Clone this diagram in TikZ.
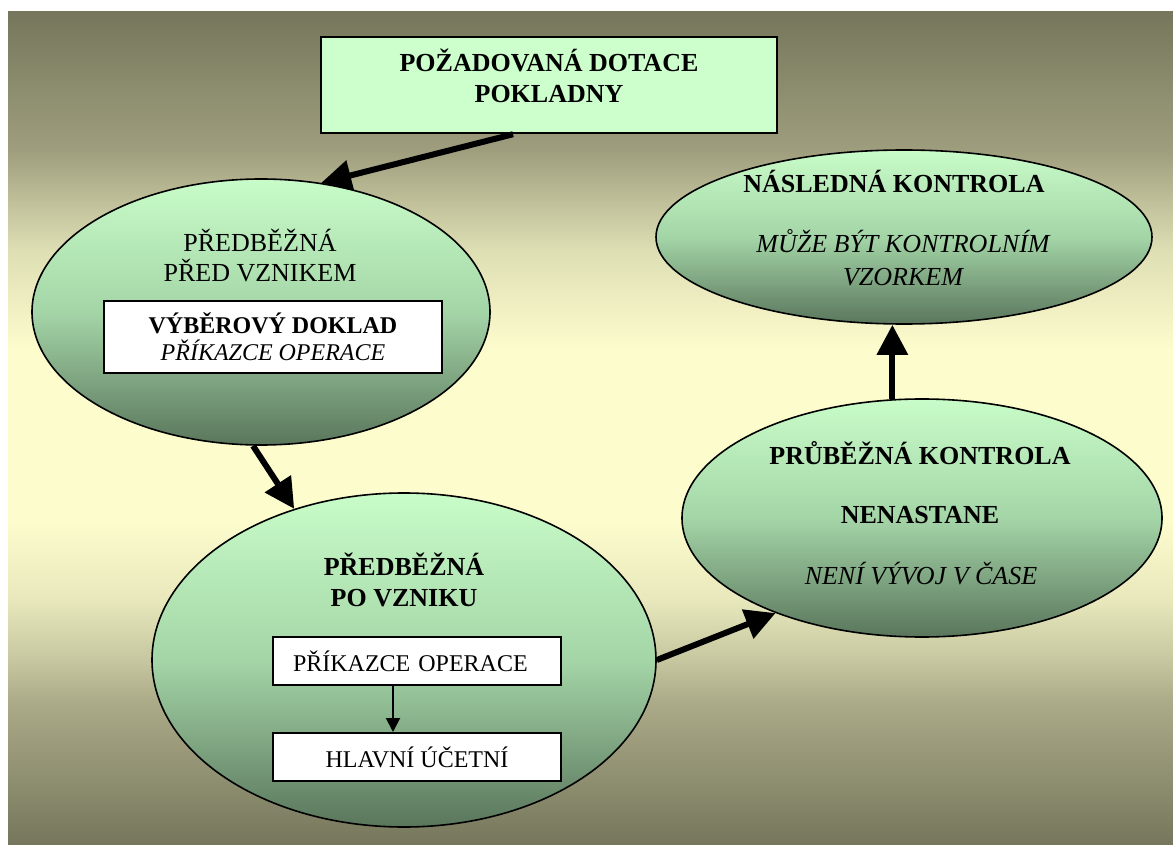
\documentclass[tikz,border=0pt]{standalone}
\usepackage{fontspec}
\setmainfont{Liberation Serif}
\usetikzlibrary{shapes.geometric,arrows.meta,calc}
\definecolor{bgdark}{HTML}{76765C}
\definecolor{bglight}{HTML}{FCFCCD}
\definecolor{elltop}{HTML}{C8FCC8}
\definecolor{ellmid}{HTML}{A4D5A7}
\definecolor{ellbot}{HTML}{5A765C}
\definecolor{boxgreen}{HTML}{CCFFCC}
\colorlet{bgA}{bglight!40!bgdark}
\colorlet{bgB}{bglight!60!bgdark}
\colorlet{bgC}{bglight!85!bgdark}
\colorlet{bgD}{bglight!78!bgdark}
\colorlet{bgE}{bglight!30!bgdark}
\pgfdeclareverticalshading{bgshade}{100bp}{color(0bp)=(bgdark); color(25bp)=(bgdark);
  color(33.7bp)=(bgA); color(36.1bp)=(bgB); color(39.7bp)=(bgC); color(44.5bp)=(bglight);
  color(54.7bp)=(bglight); color(60.7bp)=(bgD); color(66.7bp)=(bgE); color(75bp)=(bgdark);
  color(100bp)=(bgdark)}
\begin{document}
\begin{tikzpicture}[x=1pt,y=-1pt,
  bubble/.style={ellipse, draw=black, line width=1.6pt, inner sep=0pt,
    top color=elltop, bottom color=ellbot, middle color=ellmid},
  big/.style={font=\fontsize{26}{31}\selectfont, text=black, anchor=base, inner sep=0pt},
  bigb/.style={big, font=\fontsize{26}{31}\selectfont\bfseries},
  bigi/.style={big, font=\fontsize{26}{31}\selectfont\itshape},
  small/.style={font=\fontsize{24}{27}\selectfont, text=black},
  whitebox/.style={draw=black, line width=2pt, fill=white, inner sep=0pt, small},
  bigarrow/.style={line width=6pt, -{Triangle[length=30pt,width=30pt]}},
  thinarrow/.style={line width=2pt, -{Triangle[length=14pt,width=14pt]}}]
\useasboundingbox (0,0) rectangle (1173,845);
\fill[shading=bgshade] (8,12) rectangle (1173,845);

% top box
\node[draw=black, line width=2.5pt, fill=boxgreen, minimum width=456pt, minimum height=96pt, inner sep=0pt]
  (dot) at (549,85) {};
\node[bigb] (dot1) at (549,72) {POŽADOVANÁ DOTACE};
\node[bigb] (dot2) at (549,103) {POKLADNY};

% ellipses
\node[bubble, minimum width=458pt, minimum height=266pt] (e1) at (261,312) {};
\node[bubble, minimum width=504pt, minimum height=334pt] (e2) at (404,660) {};
\node[bubble, minimum width=480pt, minimum height=238pt] (e3) at (922,518) {};
\node[bubble, minimum width=496pt, minimum height=174pt] (e4) at (904,237) {};

% ellipse 1
\node[big] (e1a) at (260,252) {PŘEDBĚŽNÁ};
\node[big] (e1b) at (260,282) {PŘED VZNIKEM};
\node[whitebox, minimum width=338pt, minimum height=72pt, align=center] (vd) at (273,337)
  {\textbf{VÝBĚROVÝ DOKLAD}\\\textit{PŘÍKAZCE OPERACE}};

% ellipse 2
\node[bigb] (e2a) at (404,575) {PŘEDBĚŽNÁ};
\node[bigb] (e2b) at (404,606) {PO VZNIKU};
\node[whitebox, minimum width=288pt, minimum height=48pt, text width=248pt, inner xsep=20pt, align=left] (po) at (417,661) {PŘÍKAZCE OPERACE};
\node[whitebox, minimum width=288pt, minimum height=48pt] (hu) at (417,757) {HLAVNÍ ÚČETNÍ};
\draw[thinarrow] ([xshift=-24pt]po.south) -- ([xshift=-24pt]hu.north);

% ellipse 3
\node[bigb] (e3a) at (920,464) {PRŮBĚŽNÁ KONTROLA};
\node[bigb] (e3b) at (920,523) {NENASTANE};
\node[bigi] (e3c) at (921,584) {NENÍ VÝVOJ V ČASE};

% ellipse 4
\node[bigb] (e4a) at (894,193) {NÁSLEDNÁ KONTROLA};
\node[bigi] (e4b) at (903,253) {MŮŽE BÝT KONTROLNÍM};
\node[bigi] (e4c) at (903,285) {VZORKEM};

% connectors
\draw[bigarrow] ([xshift=-36pt]dot.south) -- (e1.65);
\draw[bigarrow] ([xshift=-8pt]e1.south) -- (e2.126);
\draw[bigarrow] (e2.east) -- (e3.213);
\draw[bigarrow] (e3.104) -- (e3.104 |- e4.south);
\end{tikzpicture}
\end{document}
